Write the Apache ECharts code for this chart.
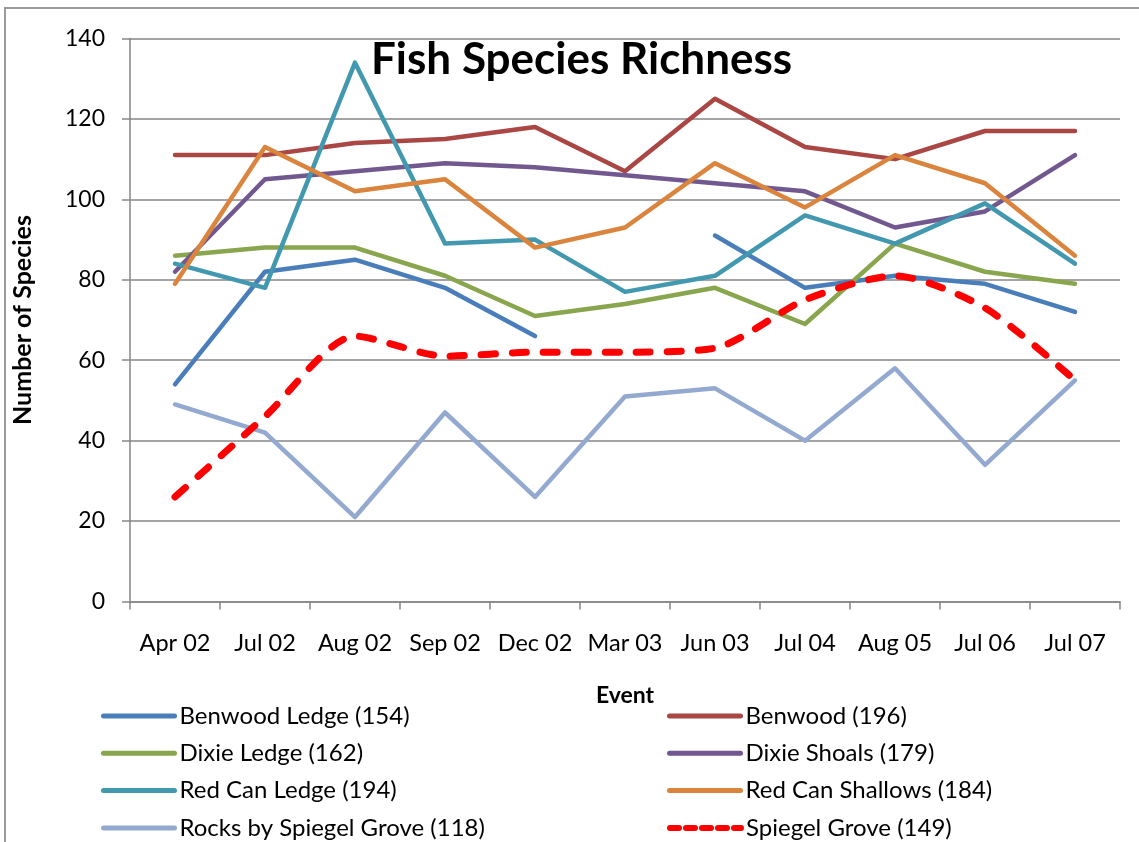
<!DOCTYPE html>
<html>
<head>
<meta charset="utf-8">
<script src="https://cdn.jsdelivr.net/npm/echarts@6/dist/echarts.min.js"></script>
<style>html,body{margin:0;padding:0;background:#fff;}#c{width:1139px;height:842px;}</style>
</head>
<body>
<div id="c"></div>
<script>
var categories = ['Apr 02','Jul 02','Aug 02','Sep 02','Dec 02','Mar 03','Jun 03','Jul 04','Aug 05','Jul 06','Jul 07'];
var benwoodLedge = [54, 82, 85, 78, 66, null, 91, 78, 81, 79, 72];
var benwood = [111, 111, 114, 115, 118, 107, 125, 113, 110, 117, 117];
var dixieLedge = [86, 88, 88, 81, 71, 74, 78, 69, 89, 82, 79];
var dixieShoals = [82, 105, 107, 109, 108, 106, 104, 102, 93, 97, 111];
var redCanLedge = [84, 78, 134, 89, 90, 77, 81, 96, 89, 99, 84];
var redCanShallows = [79, 113, 102, 105, 88, 93, 109, 98, 111, 104, 86];
var rocksBySpiegel = [49, 42, 21, 47, 26, 51, 53, 40, 58, 34, 55];
var spiegelGrove = [26, 46, 66, 61, 62, 62, 63, 75, 81, 73, 55];
var yTicks = [0, 20, 40, 60, 80, 100, 120, 140];

var seriesNames = ['Benwood Ledge (154)', 'Benwood (196)', 'Dixie Ledge (162)', 'Dixie Shoals (179)',
  'Red Can Ledge (194)', 'Red Can Shallows (184)', 'Rocks by Spiegel Grove (118)', 'Spiegel Grove (149)'];
var seriesColors = ['#4A7EBB', '#AA4643', '#89A54E', '#71588F', '#4198AF', '#DB843D', '#93A9CF', '#FF0000'];
var seriesData = [benwoodLedge, benwood, dixieLedge, dixieShoals, redCanLedge, redCanShallows, rocksBySpiegel, spiegelGrove];

var FONT = 'Lato';
var series = seriesData.map(function (d, i) {
  var dashed = i === 7;
  return {
    name: seriesNames[i], type: 'line', data: d, symbol: 'none', connectNulls: false,
    smooth: dashed ? 0.25 : false,
    lineStyle: { color: seriesColors[i], width: dashed ? 7 : 4.5, type: dashed ? [14, 17] : 'solid', cap: 'round', join: 'round' },
    itemStyle: { color: seriesColors[i] }, z: 3,
    emphasis: { disabled: true }
  };
});

// 2-column legend: left column = even indices, right column = odd indices
var legends = seriesNames.map(function (n, i) {
  var col = i % 2, row = Math.floor(i / 2);
  var dashed = i === 7;
  return {
    orient: 'horizontal', left: col === 0 ? 96 : 662, top: 699 + row * 37.3,
    itemWidth: 71, itemHeight: 14, data: [n],
    itemStyle: { opacity: 0 },
    lineStyle: dashed ? { width: 6, type: [9, 7], cap: 'round' } : { width: 5, cap: 'round' },
    textStyle: { fontFamily: FONT, fontSize: 24, color: '#000' }
  };
});

var chart = echarts.init(document.getElementById('c'), null, { renderer: 'canvas' });
chart.setOption({
  animation: false,
  backgroundColor: '#fff',
  title: {
    text: 'Fish Species Richness', left: 366, top: 33,
    textStyle: { fontFamily: FONT, fontWeight: 'bold', fontSize: 44, color: '#000' }
  },
  graphic: [{
    type: 'rect', shape: { x: 5, y: 8, width: 1300, height: 1000 },
    style: { fill: 'none', stroke: '#9a9a9a', lineWidth: 2 }, silent: true, z: -1
  }],
  legend: legends,
  grid: { left: 130, right: 19, top: 38.5, bottom: 240.5, containLabel: false },
  xAxis: {
    type: 'category', data: categories, boundaryGap: true,
    name: 'Event', nameLocation: 'middle', nameGap: 83,
    nameTextStyle: { fontFamily: FONT, fontWeight: 'bold', fontSize: 23, color: '#000' },
    axisLine: { lineStyle: { color: '#868686', width: 1.5 } },
    axisTick: { show: true, length: 8, lineStyle: { color: '#868686', width: 1.5 } },
    axisLabel: { fontFamily: FONT, fontSize: 23.5, color: '#000', margin: 30, interval: 0 }
  },
  yAxis: {
    type: 'value', min: 0, max: 140, interval: 20,
    name: 'Number of Species', nameLocation: 'middle', nameGap: 95, nameRotate: 90,
    nameTextStyle: { fontFamily: FONT, fontWeight: 'bold', fontSize: 25, color: '#000' },
    axisLine: { show: true, lineStyle: { color: '#868686', width: 1.5 } },
    axisTick: { show: true, length: 8, lineStyle: { color: '#868686', width: 1.5 } },
    splitLine: { show: true, lineStyle: { color: '#868686', width: 1.5 } },
    axisLabel: { fontFamily: FONT, fontSize: 23, color: '#000', margin: 25,
      formatter: function (v) { return yTicks.indexOf(v) >= 0 ? String(v) : ''; } }
  },
  series: series
});
</script>
</body>
</html>
